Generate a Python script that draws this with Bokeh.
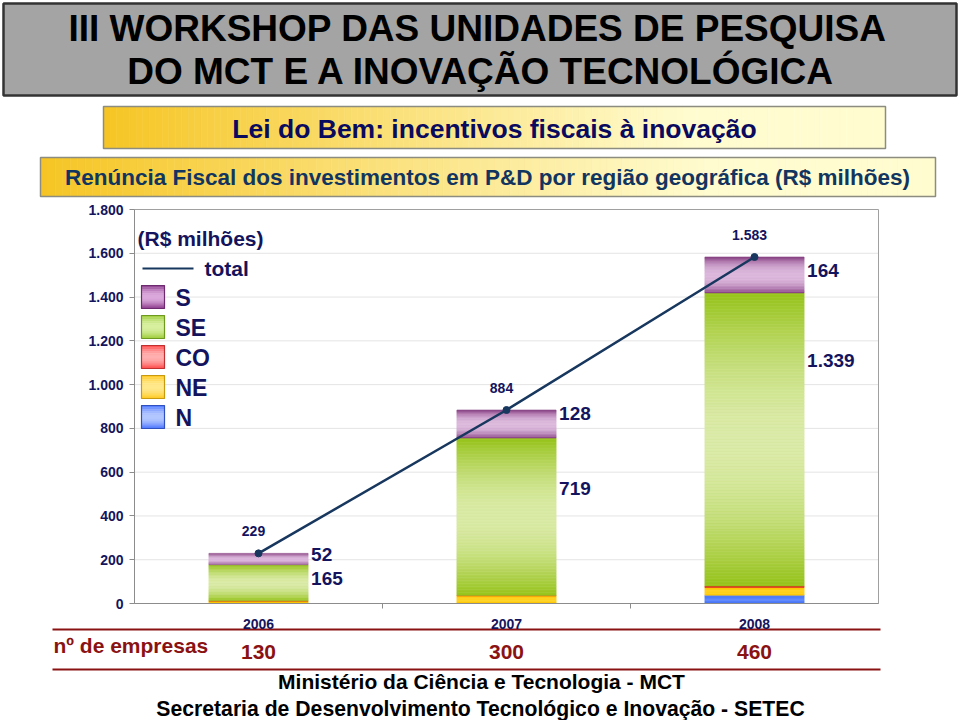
import numpy as np
from bokeh.plotting import figure
from bokeh.models import Range1d, LinearAxis, FixedTicker
from bokeh.core.properties import value
from bokeh.embed import file_html
from bokeh.resources import INLINE

# ---------------- data ----------------
years = ["2006", "2007", "2008"]
total = [229, 884, 1583]
reg_N = [1, 2, 38]
reg_NE = [10, 33, 35]
reg_CO = [1, 2, 7]
reg_SE = [165, 719, 1339]
reg_S = [52, 128, 164]
empresas = [130, 300, 460]
y_ticks = [0, 200, 400, 600, 800, 1000, 1200, 1400, 1600, 1800]
legend_names = ["S", "SE", "CO", "NE", "N"]

# ---------------- layout helpers (pixel -> data) ----------------
W, H = 960, 720
PX0, PX1 = 134, 878
PY0, PY1 = 603, 209
YMAX = 1800
XU = (PX1 - PX0) / len(years)
YU = (PY0 - PY1) / YMAX


def X(px):
    return (px - PX0) / XU - 0.5


def Y(py):
    return (PY0 - py) / YU


FONT = value("Liberation Sans")
NAVY = "#14145e"
MAROON = "#8b1212"


def fmt(v):
    return f"{v:,}".replace(",", ".")


def rgb(h):
    h = h.lstrip("#")
    return tuple(int(h[i:i + 2], 16) for i in (0, 2, 4))


def mix(c1, c2, t):
    a, b = rgb(c1), rgb(c2)
    return "#%02x%02x%02x" % tuple(int(round(a[i] + (b[i] - a[i]) * t)) for i in range(3))


p = figure(width=W, height=H, x_range=Range1d(X(0), X(W)), y_range=Range1d(Y(H), Y(0)),
           x_axis_location=None, y_axis_location=None, min_border=0,
           outline_line_color=None, toolbar_location=None, output_backend="svg",
           background_fill_color="white", border_fill_color="white")
p.grid.visible = False


def text(px, py, s, size, color, align="center", style="bold"):
    p.text(x=[X(px)], y=[Y(py)], text=[s], text_font=FONT, text_font_size=f"{size}px",
           text_font_style=style, text_color=color, text_align=align, text_baseline="middle")


def hgrad_box(px0, py0, px1, py1, c0, c1, border, n=120, reach=0.75):
    xs = np.linspace(px0, px1, n + 1)
    cols = [mix(c0, c1, min(1.0, ((k + 0.5) / n) / reach)) for k in range(n)]
    p.quad(left=[X(v) for v in xs[:-1]], right=[X(v) for v in xs[1:]],
           top=Y(py0), bottom=Y(py1), fill_color=cols, line_color=cols, line_width=0.6)
    p.quad(left=X(px0), right=X(px1), top=Y(py0), bottom=Y(py1), fill_color=None,
           line_color=border, line_width=1.5)


def vgrad_box(px0, py0, px1, py1, edge, mid, border, n=12):
    ys = np.linspace(py0, py1, n + 1)
    cols = [mix(edge, mid, np.sin(np.pi * (k + 0.5) / n)) for k in range(n)]
    p.quad(left=X(px0), right=X(px1), top=[Y(v) for v in ys[:-1]], bottom=[Y(v) for v in ys[1:]],
           fill_color=cols, line_color=cols, line_width=0.6)
    p.quad(left=X(px0), right=X(px1), top=Y(py0), bottom=Y(py1), fill_color=None,
           line_color=border, line_width=1.2)


# ---------------- header ----------------
p.quad(left=X(3), right=X(956), top=Y(3), bottom=Y(95), fill_color="#a4a4a4",
       line_color="#333333", line_width=2.5)
text(477, 28, "III WORKSHOP DAS UNIDADES DE PESQUISA", 37, "black")
text(481, 71, "DO MCT E A INOVAÇÃO TECNOLÓGICA", 37, "black")

hgrad_box(103, 106, 885, 148, "#f6c524", "#fffcd0", "#8c8c80")
text(494, 128, "Lei do Bem: incentivos fiscais à inovação", 26.5, "#0a0a5e")
hgrad_box(40, 157, 935, 196, "#f6c524", "#fffcd0", "#8c8c80")
text(487, 177, "Renúncia Fiscal dos investimentos em P&D por região geográfica (R$ milhões)", 22.5, "#123560")

# ---------------- plot frame, grid ----------------
inner = y_ticks[1:-1]
p.segment(x0=[-0.5] * len(inner), y0=inner, x1=[len(years) - 0.5] * len(inner), y1=inner,
          line_color="#e4e4e4", line_width=1)
p.quad(left=-0.5, right=len(years) - 0.5, bottom=0, top=YMAX, fill_color=None,
       line_color="#a0a0a0", line_width=1)

# category separator ticks below the axis
seps = [i + 0.5 for i in range(len(years) - 1)]
p.segment(x0=seps, y0=[0] * len(seps), x1=seps, y1=[Y(PY0 + 5)] * len(seps),
          line_color="#8c8c8c", line_width=1)

# ---------------- stacked bars with gradient ----------------
segs = [
    (reg_N, "#3f6ff0", "#5a86ff", 1.0),
    (reg_NE, "#fcc400", "#ffd21e", 1.0),
    (reg_CO, "#e0281c", "#ff5040", 1.0),
    (reg_SE, "#96c31a", "#d9eaa4", 1.0),
    (reg_S, "#74246f", "#dcb8dc", 0.55),
]
BW = 0.4
L, R, B, T, C = [], [], [], [], []
bottoms = [0.0] * len(years)
mids = {}
for si, (vals, edge, mid, pw) in enumerate(segs):
    for i in range(len(years)):
        b = bottoms[i]
        h = vals[i]
        n = max(1, int(round(h * YU / 1.5)))
        for k in range(n):
            f = np.sin(np.pi * (k + 0.5) / n) ** pw if n > 2 else 1.0
            L.append(i - BW / 2)
            R.append(i + BW / 2)
            B.append(b + h * k / n)
            T.append(b + h * (k + 1) / n)
            C.append(mix(edge, mid, f) if n > 2 else edge)
        mids[(si, i)] = b + h / 2
        bottoms[i] = b + h
p.quad(left=L, right=R, bottom=B, top=T, fill_color=C, line_color=C, line_width=0.6)

# ---------------- total line ----------------
xs = list(range(len(years)))
p.line(x=xs, y=total, line_color="#17375e", line_width=2.5)
p.scatter(x=xs, y=total, size=7, color="#17375e")
p.text(x=xs, y=total, text=[fmt(v) for v in total], x_offset=-5, y_offset=-22,
       text_font=FONT, text_font_size="14px", text_font_style="bold", text_color=NAVY,
       text_align="center", text_baseline="middle")

# segment labels (S and SE) right of the bars
lab_dy = {(4, 0): -5, (3, 0): -4, (4, 1): -11, (3, 1): -28, (4, 2): -4, (3, 2): -79}
lx, ly, lt, loff = [], [], [], []
for (si, i), dy in lab_dy.items():
    lx.append(i + BW / 2)
    ly.append(mids[(si, i)])
    lt.append(fmt(segs[si][0][i]))
    loff.append(dy)
p.text(x=lx, y=ly, text=lt, x_offset=3, y_offset=loff, text_font=FONT, text_font_size="19px",
       text_font_style="bold", text_color=NAVY, text_align="left", text_baseline="middle")

# ---------------- axes ----------------
yaxis = LinearAxis(fixed_location=-0.5, ticker=FixedTicker(ticks=y_ticks),
                   major_label_overrides={t: fmt(t) for t in y_ticks})
yaxis.bounds = (0, YMAX)
yaxis.axis_line_color = "#8c8c8c"
yaxis.major_tick_line_color = "#8c8c8c"
yaxis.major_tick_out = 5
yaxis.major_tick_in = 0
yaxis.minor_tick_out = 0
yaxis.minor_tick_in = 0
yaxis.major_label_standoff = 6
yaxis.major_label_text_font = "Liberation Sans"
yaxis.major_label_text_font_size = "14px"
yaxis.major_label_text_font_style = "bold"
yaxis.major_label_text_color = NAVY
p.add_layout(yaxis, "left")

xaxis = LinearAxis(fixed_location=0, ticker=FixedTicker(ticks=xs),
                   major_label_overrides={i: y for i, y in enumerate(years)})
xaxis.bounds = (-0.5, len(years) - 0.5)
xaxis.axis_line_color = "#8c8c8c"
xaxis.major_tick_out = 0
xaxis.major_tick_in = 0
xaxis.minor_tick_out = 0
xaxis.minor_tick_in = 0
xaxis.major_label_standoff = 15
xaxis.major_label_text_font = "Liberation Sans"
xaxis.major_label_text_font_size = "14px"
xaxis.major_label_text_font_style = "bold"
xaxis.major_label_text_color = NAVY
p.add_layout(xaxis, "below")

# ---------------- legend ----------------
text(137, 238, "(R$ milhões)", 21, NAVY, align="left")
p.segment(x0=[X(142)], y0=[Y(268)], x1=[X(193)], y1=[Y(268)], line_color="#17375e", line_width=2)
text(204, 268, "total", 21, NAVY, align="left")
leg_style = {
    "S": ("#8a3a8a", "#dcaadc", "#6e2a6e"),
    "SE": ("#9ccc3a", "#d8f0a0", "#6f9a20"),
    "CO": ("#ff4a4a", "#ffb0b0", "#c03030"),
    "NE": ("#ffc820", "#ffe98c", "#c89a10"),
    "N": ("#4a74ff", "#b4c8ff", "#3050c0"),
}
for k, name in enumerate(legend_names):
    top = 285 + 30 * k
    e, m, bd = leg_style[name]
    vgrad_box(141, top, 164, top + 23, e, m, bd)
    text(175, top + 12, name, 23, NAVY, align="left")

# ---------------- footer ----------------
p.segment(x0=[X(52), X(52)], y0=[Y(629), Y(669)], x1=[X(880), X(880)], y1=[Y(629), Y(669)],
          line_color=MAROON, line_width=2)
text(53, 645, "nº de empresas", 21, MAROON, align="left")
p.text(x=xs, y=[Y(651)] * len(xs), text=[str(v) for v in empresas], text_font=FONT,
       text_font_size="21px", text_font_style="bold", text_color=MAROON,
       text_align="center", text_baseline="middle")
text(481, 681, "Ministério da Ciência e Tecnologia - MCT", 21, "black")
text(480, 708, "Secretaria de Desenvolvimento Tecnológico e Inovação - SETEC", 21.2, "black")

open("out.html", "w").write(file_html(p, INLINE))
